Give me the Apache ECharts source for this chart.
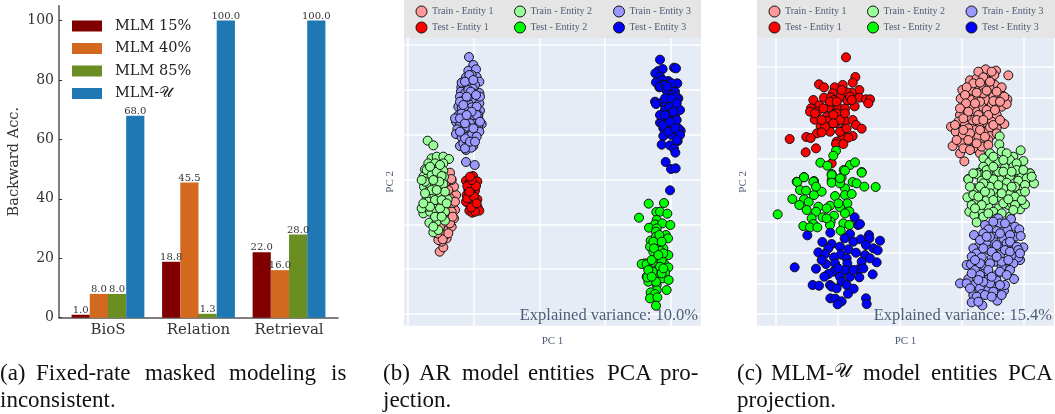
<!DOCTYPE html>
<html><head><meta charset="utf-8">
<style>html,body{margin:0;padding:0;background:#fff}#c{width:1055px;height:414px}</style>
<script src="https://cdn.jsdelivr.net/npm/echarts@6/dist/echarts.min.js"></script>
</head><body><div id="c"></div>
<script>
const categories = ['BioS','Relation','Retrieval'];
const mlm15 = [1.0,18.8,22.0];
const mlm40 = [8.0,45.5,16.0];
const mlm85 = [8.0,1.3,28.0];
const mlmU = [68.0,100.0,100.0];
const barTicks = [0,20,40,60,80,100];

// Scatter values are read off the picture; the PC axes carry no numbers, so their units are arbitrary.
const bXTicks = [84,280,478,673,871];
const bYTicks = [135,268,403,539,673,807,942];
const cXTicks = [136,322,509,695,882];
const cYTicks = [200,292,385,477,571,664,757,850,942];

const bTrain1 = [[179,755],[190,742],[185,725],[200,715],[205,690],[215,680],[222,655],[225,630],[218,610],[228,585],[222,560],[215,540],[208,525],[175,720],[195,705],[210,670],[200,635],[210,595],[190,610],[170,650],[180,680],[215,635],[225,605],[205,570],[195,550],[185,590],[170,570],[160,610],[150,550],[210,518],[214,537],[188,718],[172,700],[205,700],[218,650]];
const bTrain2 = [[143,422],[160,436],[155,475],[170,470],[190,470],[207,477],[145,490],[165,490],[190,490],[135,508],[155,508],[175,505],[190,512],[130,530],[148,525],[170,525],[192,530],[140,535],[140,510],[155,525],[170,515],[185,528],[132,560],[150,555],[165,555],[190,552],[145,575],[160,588],[180,580],[203,598],[140,595],[157,610],[175,605],[190,615],[130,640],[150,635],[175,642],[195,635],[148,668],[170,665],[195,662],[160,697],[175,690],[140,620],[165,625],[125,625],[135,545],[178,545],[160,540],[145,605],[180,625],[165,600],[150,500],[180,495],[125,540],[195,575],[155,570],[170,570],[135,580],[185,600],[150,620],[130,610],[165,650],[185,650],[200,610],[160,680]];
const bTrain3 = [[267,171],[280,195],[265,212],[288,208],[258,232],[290,231],[275,225],[246,248],[298,245],[270,240],[244,262],[285,255],[262,258],[243,275],[298,279],[278,265],[255,280],[272,292],[240,290],[295,300],[252,300],[283,302],[265,310],[235,320],[298,310],[245,322],[275,322],[300,332],[258,332],[285,335],[236,345],[268,349],[295,355],[248,352],[228,365],[305,372],[280,360],[258,365],[295,378],[270,385],[240,375],[232,388],[250,392],[285,395],[228,402],[298,395],[262,410],[275,405],[290,410],[245,412],[240,438],[280,438],[258,450],[274,443],[250,430],[265,425],[258,486],[284,495],[255,445],[295,345],[225,355],[265,290],[300,290],[240,305],[280,345],[255,415],[270,370],[245,248],[265,270],[280,280],[245,340],[290,320],[268,225],[255,245],[280,240],[272,275],[260,290],[288,285],[250,315],[290,345],[240,355],[262,380],[280,385],[300,365],[240,395],[270,425],[285,425],[255,370],[275,335],[260,345]];
const bTest1 = [[279,528],[292,544],[258,542],[268,548],[277,555],[265,570],[285,572],[260,585],[278,588],[270,600],[292,598],[265,610],[280,615],[293,622],[298,632],[268,632],[277,638],[262,558],[272,578],[288,558],[258,605],[285,635],[274,622],[275,540],[262,595],[270,530],[282,590],[268,575],[290,610]];
const bTest2 = [[806,611],[852,609],[777,653],[829,636],[840,635],[862,641],[830,660],[825,673],[847,670],[871,675],[807,683],[830,685],[828,695],[858,705],[864,715],[812,722],[828,710],[842,735],[810,740],[850,745],[820,755],[840,752],[865,765],[830,775],[795,790],[785,792],[800,793],[820,795],[853,792],[810,810],[835,805],[865,802],[800,830],[825,820],[855,818],[848,835],[866,840],[805,845],[830,855],[830,870],[860,870],[812,877],[825,882],[810,895],[832,892],[828,917],[845,780],[815,780],[840,800],[850,760],[835,720],[820,725],[802,832],[818,815],[838,705],[822,745],[845,725],[835,765],[805,810],[845,820],[828,845],[815,830],[850,805]];
const bTest3 = [[840,179],[882,203],[888,205],[835,213],[848,207],[826,220],[840,230],[865,243],[828,247],[848,240],[892,250],[848,254],[838,262],[860,272],[885,275],[878,285],[895,295],[888,292],[825,305],[845,308],[828,312],[868,300],[858,315],[880,310],[900,330],[870,335],[855,330],[845,350],[865,345],[885,350],[840,368],[862,372],[875,360],[850,385],[880,395],[902,392],[895,385],[850,408],[875,405],[893,423],[845,434],[870,436],[882,446],[886,458],[857,486],[873,507],[887,505],[900,405],[860,355],[890,360],[870,320],[855,295],[840,260],[875,250],[855,255],[890,420],[848,362],[870,571],[862,260],[875,295],[840,345],[880,335],[850,375],[865,395],[885,385],[870,365],[890,310],[855,345]];

const cTrain1 = [[767,208],[798,212],[793,225],[835,226],[750,225],[720,241],[740,235],[770,240],[808,265],[697,270],[755,260],[795,255],[735,265],[778,262],[815,285],[692,296],[725,300],[770,300],[832,298],[745,290],[790,290],[703,323],[755,320],[815,320],[830,312],[785,315],[735,330],[690,345],[727,360],[765,350],[800,345],[685,365],[705,375],[663,380],[750,370],[773,372],[823,372],[800,385],[677,395],[698,405],[735,390],[765,395],[785,405],[725,415],[745,410],[668,438],[711,436],[695,430],[690,460],[730,445],[760,430],[703,484],[750,460],[775,420],[755,440],[715,385],[770,330],[720,320],[745,345],[785,365],[710,350],[760,280],[725,270],[800,310],[745,215],[785,215],[760,232],[730,250],[710,262],[780,245],[815,262],[750,248],[770,272],[705,285],[740,278],[800,275],[823,290],[750,305],[790,303],[735,310],[708,310],[810,305],[690,325],[775,345],[795,330],[715,335],[740,360],[760,360],[780,382],[700,355],[675,375],[790,375],[720,400],[750,390],[700,390],[810,360],[715,420],[740,430],[680,420],[700,445],[765,410],[775,435],[720,450],[800,400]];
const cTrain2 = [[809,409],[808,433],[872,451],[815,455],[780,460],[850,470],[760,475],[880,483],[800,485],[778,487],[840,480],[760,500],[825,503],[850,500],[745,518],[800,515],[900,520],[870,530],[750,525],[830,527],[715,537],[780,535],[810,540],[740,522],[805,515],[840,528],[875,525],[900,520],[715,538],[755,542],[790,538],[830,548],[865,542],[912,550],[735,565],[770,565],[800,590],[840,582],[870,582],[712,592],[735,610],[760,595],[775,620],[805,625],[835,615],[870,628],[885,613],[718,635],[750,635],[845,610],[733,645],[840,650],[790,570],[740,667],[730,585],[770,600],[815,595],[855,560],[780,560],[820,565],[790,470],[830,460],[860,490],[820,480],[770,510],[790,500],[860,510],[880,510],[730,520],[770,525],[820,515],[845,515],[890,535],[760,550],[805,555],[845,560],[885,555],[720,560],[750,560],[780,580],[815,580],[855,590],[745,590],[790,600],[875,600],[755,615],[820,610],[855,615],[725,615],[790,635],[815,640],[760,650],[735,625],[850,630],[775,640],[800,655],[885,575],[905,530],[835,598],[765,575]];
const cTrain3 = [[805,655],[843,657],[765,675],[810,670],[855,680],[775,688],[832,688],[800,693],[868,688],[732,705],[760,700],[855,710],[872,708],[820,715],[790,710],[850,735],[880,742],[745,740],[730,745],[775,750],[810,745],[740,760],[870,780],[710,795],[723,793],[865,772],[795,785],[850,790],[755,772],[828,807],[765,815],[735,810],[800,825],[715,837],[690,850],[852,837],[770,840],[800,842],[733,855],[750,865],[775,870],[800,860],[822,872],[730,885],[755,882],[740,890],[725,907],[802,902],[757,916],[780,850],[810,765],[830,730],[790,725],[760,795],[825,855],[845,765],[785,775],[770,725],[815,800],[790,665],[825,670],[780,710],[810,700],[840,705],[750,720],[770,710],[840,725],[800,735],[825,750],[860,740],[760,745],[785,755],[840,755],[865,750],[725,770],[750,790],[780,790],[815,785],[835,780],[870,760],[735,780],[800,770],[775,810],[810,815],[840,810],[750,825],[725,820],[785,830],[830,825],[710,850],[760,845],[745,840],[810,855],[790,875],[765,885],[720,865],[785,890],[815,885],[745,905]];
const cTest1 = [[348,172],[376,231],[267,253],[282,262],[314,262],[338,255],[368,248],[388,270],[365,278],[350,277],[308,280],[282,293],[303,292],[330,292],[352,302],[388,293],[250,300],[408,298],[420,298],[415,310],[374,319],[268,316],[302,318],[325,322],[296,322],[345,326],[243,325],[240,335],[262,335],[320,340],[290,350],[254,359],[292,363],[318,370],[346,364],[368,360],[272,378],[298,380],[343,387],[378,375],[395,386],[261,400],[229,411],[242,414],[179,417],[337,411],[368,408],[355,413],[320,425],[318,432],[340,432],[258,445],[227,457],[305,490],[300,395],[330,360],[310,345],[360,290],[285,380],[275,397],[312,300],[300,305],[335,270],[320,305],[345,340],[280,325],[365,300],[310,370],[330,395],[255,340],[275,360],[350,385]];
const cTest2 = [[318,452],[310,467],[271,488],[292,497],[360,495],[375,487],[341,510],[395,516],[305,522],[222,531],[335,533],[305,540],[200,545],[252,543],[202,546],[222,532],[250,545],[305,525],[345,512],[395,518],[305,548],[345,565],[368,546],[380,550],[403,560],[437,561],[210,570],[228,572],[252,585],[275,575],[315,588],[345,585],[365,582],[187,597],[222,598],[236,606],[208,615],[265,620],[300,617],[352,610],[230,630],[290,625],[330,622],[358,634],[143,643],[258,635],[312,647],[345,640],[278,652],[245,655],[302,665],[340,670],[358,675],[250,672],[220,678],[240,682],[262,682],[300,675],[332,692],[330,550],[330,535],[258,560],[290,655],[325,610]];
const cTest3 = [[374,652],[384,675],[390,672],[301,698],[360,702],[232,706],[417,705],[418,715],[344,715],[392,718],[450,722],[277,726],[370,725],[305,732],[408,735],[295,745],[330,740],[355,748],[430,745],[265,757],[443,751],[285,762],[378,758],[405,765],[332,764],[312,772],[350,775],[395,785],[440,787],[315,790],[288,792],[352,790],[194,802],[258,806],[385,808],[400,805],[345,810],[310,815],[295,822],[283,830],[428,823],[388,832],[330,830],[248,855],[267,857],[300,855],[335,845],[305,860],[320,865],[350,855],[371,866],[354,881],[301,895],[316,896],[335,904],[323,913],[408,895],[410,912],[360,830],[325,805],[420,775],[370,810],[275,780]];

const seriesNames = ['Train - Entity 1','Train - Entity 2','Train - Entity 3','Test - Entity 1','Test - Entity 2','Test - Entity 3'];
const seriesColors = ['#ff9999','#99ff99','#9999ff','#ff0000','#00ff00','#0000ff'];
const bData = [bTrain1,bTrain2,bTrain3,bTest1,bTest2,bTest3];
const cData = [cTrain1,cTrain2,cTrain3,cTest1,cTest2,cTest3];

const serif = '"DejaVu Serif"';
const times = '"Liberation Serif"';
const plotText = '#4d5c75';
const barColors = ['#800000','#d2691e','#6b8e23','#1f77b4'];
const barNames = ['MLM 15%','MLM 40%','MLM 85%','MLM-\u{1D4B0}'];
const barVals = [mlm15,mlm40,mlm85,mlmU];

const grid = [
 {left:59,top:5.7,width:279,height:312},
 {left:404,top:38,width:297,height:287.7,show:true,backgroundColor:'#e5ecf6',borderWidth:0},
 {left:757,top:38,width:297,height:287.7,show:true,backgroundColor:'#e5ecf6',borderWidth:0}
];
const spine = {show:true,onZero:false,lineStyle:{color:'#555',width:1.5}};
function pcX(i,lo,hi,ticks){return {type:'value',gridIndex:i,min:lo,max:hi,name:'PC 1',nameLocation:'middle',nameGap:10,
  nameTextStyle:{fontFamily:times,fontSize:11,color:plotText},axisLine:{show:false},axisLabel:{show:false},
  axisTick:{show:false,customValues:ticks},splitLine:{show:true,lineStyle:{color:'#fff',width:1.5}}};}
function pcY(i,lo,hi,ticks){return {type:'value',gridIndex:i,min:lo,max:hi,inverse:true,name:'PC 2',nameLocation:'middle',nameGap:8,
  nameTextStyle:{fontFamily:times,fontSize:11,color:plotText},axisLine:{show:false},axisLabel:{show:false},
  axisTick:{show:false,customValues:ticks},splitLine:{show:true,lineStyle:{color:'#fff',width:1.5}}};}

const series = [];
barVals.forEach((vals,k)=>series.push({type:'bar',name:barNames[k],xAxisIndex:0,yAxisIndex:0,barWidth:18.2,barGap:0,
  itemStyle:{color:barColors[k]},
  label:{show:true,position:'top',distance:-0.5,fontFamily:serif,fontSize:10,color:'#333',formatter:p=>p.value[1].toFixed(1)},
  data:vals.map((v,i)=>[i,v])}));
[bData,cData].forEach((set,g)=>set.forEach((pts,k)=>series.push({type:'scatter',name:seriesNames[k],xAxisIndex:g+1,yAxisIndex:g+1,
  symbolSize:9,itemStyle:{color:seriesColors[k],borderColor:'#111',borderWidth:1,opacity:1},data:pts})));

const legend = [{left:72,top:18.5,orient:'vertical',selectedMode:false,itemWidth:30,itemHeight:11,itemGap:7.5,icon:'rect',
  textStyle:{fontFamily:serif,fontSize:14.5,color:'#222',padding:[0,0,0,8]},data:barNames,padding:0}];
[[415.5,514,613],[768.5,867,965.5]].forEach(cols=>{
  for(let k=0;k<6;k++){
    legend.push({left:cols[k%3],top:k<3?5.5:21.5,selectedMode:false,itemWidth:11,itemHeight:11,itemGap:10,padding:0,icon:'circle',
      itemStyle:{borderColor:'#111',borderWidth:1},
      textStyle:{fontFamily:times,fontSize:10,color:plotText},data:[seriesNames[k]]});
  }
});

const cap = (x,y,t,s)=>({type:'text',left:x,top:y,silent:true,style:{text:t,fontFamily:times,fontSize:s||23,fill:'#111'}});
const graphic = [
 {type:'rect',left:404,top:0,z:1,shape:{width:297,height:38},style:{fill:'#e5e5e5'},silent:true},
 {type:'rect',left:757,top:0,z:1,shape:{width:298,height:38},style:{fill:'#e5e5e5'},silent:true},
 {type:'text',right:357,top:307,z:50,silent:true,style:{text:'Explained variance: 10.0%',fontFamily:times,fontSize:16.5,fill:'#4d5c75'}},
 {type:'text',right:3,top:307,z:50,silent:true,style:{text:'Explained variance: 15.4%',fontFamily:times,fontSize:16.5,fill:'#4d5c75'}},
 cap(0,362,'(a)'),cap(36,362,'Fixed-rate'),cap(145,362,'masked'),cap(229,362,'modeling'),cap(331,362,'is'),
 cap(0,389,'inconsistent.'),
 cap(383,362,'(b)'),cap(419,362,'AR'),cap(462,362,'model'),cap(528,362,'entities'),cap(607,362,'PCA'),cap(660,362,'pro-'),
 cap(383,389,'jection.'),
 cap(737,362,'(c)'),cap(771,362,'MLM-'),cap(834,363,'\u{1D4B0}',19),cap(863,362,'model'),cap(931,362,'entities'),cap(1008,362,'PCA'),
 cap(737,389,'projection.')
];

const chart = echarts.init(document.getElementById('c'),null,{renderer:'canvas'});
chart.setOption({
  animation:false,grid,series,legend,graphic,
  xAxis:[
   {type:'value',gridIndex:0,min:-0.541,max:2.541,axisLine:spine,splitLine:{show:false},
    axisTick:{show:true,inside:true,length:3,customValues:[0,1,2],lineStyle:{color:'#333'}},
    axisLabel:{customValues:[0,1,2],fontFamily:serif,fontSize:15,color:'#333',margin:5,formatter:v=>categories[v]}},
   pcX(1,72,963,bXTicks),
   pcX(2,81,972,cXTicks)
  ],
  yAxis:[
   {type:'value',gridIndex:0,min:0,max:105,name:'Backward Acc.',nameLocation:'middle',nameGap:37,
    nameTextStyle:{fontFamily:serif,fontSize:14.5,color:'#333'},axisLine:spine,splitLine:{show:false},
    axisTick:{show:true,inside:true,length:3,customValues:barTicks,lineStyle:{color:'#333'}},
    axisLabel:{customValues:barTicks,fontFamily:serif,fontSize:14,color:'#333',margin:5,padding:[5,0,0,0]}},
   pcY(1,114,977,bYTicks),
   pcY(2,114,977,cYTicks)
  ]
});
</script></body></html>
